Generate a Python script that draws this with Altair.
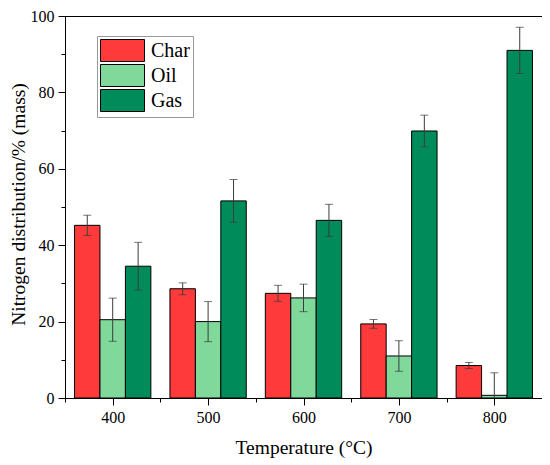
import altair as alt
import pandas as pd

temps = [400, 500, 600, 700, 800]
series = ["Char", "Oil", "Gas"]
char = [45.2, 28.6, 27.4, 19.4, 8.5]
char_err = [2.65, 1.55, 2.1, 1.15, 0.8]
oil = [20.5, 20.0, 26.2, 11.0, 0.7]
oil_err = [5.65, 5.25, 3.6, 4.0, 5.9]
gas = [34.5, 51.6, 46.5, 69.9, 91.0]
gas_err = [6.25, 5.6, 4.2, 4.15, 6.05]
colors = ["#FF3A3A", "#80D99B", "#008C5A"]

x_major = [400, 500, 600, 700, 800]
x_minor = [350, 450, 550, 650, 750, 850]
y_major = [0, 20, 40, 60, 80, 100]
y_minor = [10, 30, 50, 70, 90]

rows = []
for i, (name, vals, errs) in enumerate(zip(series, [char, oil, gas], [char_err, oil_err, gas_err])):
    for t, v, e in zip(temps, vals, errs):
        rows.append({"T": t, "series": name, "idx": i, "value": v, "err": e})
df = pd.DataFrame(rows)

FONT = "Liberation Serif"
xscale = alt.Scale(domain=[350, 850], nice=False, zero=False)
yscale = alt.Scale(domain=[0, 100], nice=False)

base = alt.Chart(df).transform_calculate(
    x0="datum.T - 40 + datum.idx * 80 / 3",
    x1="datum.T - 40 + (datum.idx + 1) * 80 / 3",
    xc="datum.T - 40 + (datum.idx + 0.5) * 80 / 3",
    lo="datum.value - datum.err",
    hi="datum.value + datum.err",
)

x_axis_major = alt.Axis(values=x_major, format="d", title="Temperature (°C)", grid=False,
                        tickSize=7, labelPadding=4, labelFontSize=16, titleFontSize=19.5,
                        titlePadding=13, titleFontWeight="normal",
                        labelFont=FONT, titleFont=FONT)
y_axis_major = alt.Axis(values=y_major, format="d", title="Nitrogen distribution/% (mass)",
                        grid=False, tickSize=7, labelPadding=4, labelFontSize=16,
                        titleFontSize=19.5, titleFontWeight="normal", orient="left",
                        titleX=-47, titleY=188, titleAngle=270, titleBaseline="middle",
                        titleAlign="center", labelFont=FONT, titleFont=FONT)
x_axis_minor = alt.Axis(values=x_minor, title=None, labels=False, grid=False, tickSize=4,
                        domain=False, orient="bottom")
y_axis_minor = alt.Axis(values=y_minor, title=None, labels=False, grid=False, tickSize=4,
                        domain=False, orient="left")

bars = base.mark_bar(stroke="black", strokeWidth=1, opacity=1).encode(
    x=alt.X("x0:Q", scale=xscale, axis=x_axis_major),
    x2="x1:Q",
    y=alt.Y("value:Q", scale=yscale, axis=y_axis_major),
    y2=alt.datum(0),
    color=alt.Color(
        "series:N",
        scale=alt.Scale(domain=series, range=colors),
        legend=alt.Legend(
            title=None, orient="none", legendX=32, legendY=20,
            symbolType="M-1,-1H3V1H-1Z", symbolSize=484,
            symbolStrokeColor="black", symbolStrokeWidth=1, symbolOpacity=1,
            labelFont=FONT, labelFontSize=20, labelColor="black", labelOffset=28,
            strokeColor="#999999", fillColor="white", padding=3, rowPadding=-2,
        ),
    ),
)

err_color = "#3c3c3c"
rules = base.mark_rule(color=err_color, strokeWidth=1, clip=True).encode(
    x=alt.X("xc:Q", scale=xscale, axis=x_axis_minor),
    y=alt.Y("lo:Q", scale=yscale, axis=y_axis_minor),
    y2="hi:Q",
)
caps_lo = base.mark_tick(color=err_color, thickness=1, size=8, orient="horizontal", clip=True).encode(
    x=alt.X("xc:Q", scale=xscale, axis=None),
    y=alt.Y("lo:Q", scale=yscale, axis=None),
)
caps_hi = base.mark_tick(color=err_color, thickness=1, size=8, orient="horizontal", clip=True).encode(
    x=alt.X("xc:Q", scale=xscale, axis=None),
    y=alt.Y("hi:Q", scale=yscale, axis=None),
)

chart = alt.layer(bars, rules, caps_lo, caps_hi).resolve_axis(
    x="independent", y="independent"
).properties(
    width=477, height=382,
    padding={"left": 57, "top": 8, "right": 0, "bottom": 60},
    autosize=alt.AutoSizeParams(type="none"),
    background="white",
).configure_view(
    stroke="black", strokeWidth=1
).configure_axis(
    labelFont=FONT, titleFont=FONT, labelColor="black", titleColor="black",
    domainColor="black", tickColor="black", domainWidth=1, tickWidth=1,
)

chart.save("out.html", embed_options={"renderer": "svg", "actions": False})
